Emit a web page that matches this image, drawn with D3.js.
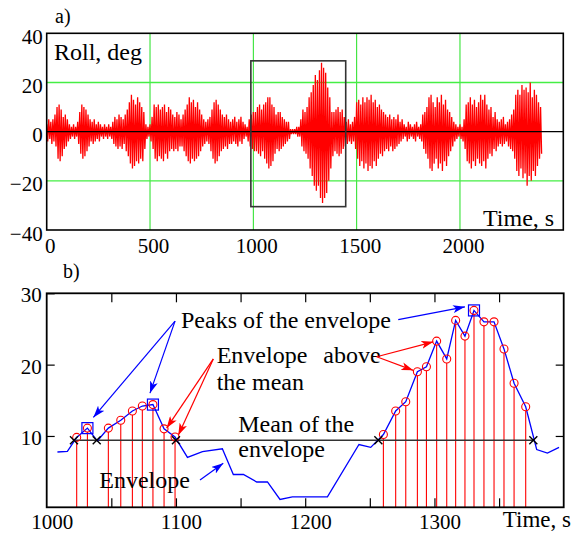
<!DOCTYPE html>
<html lang="en">
<head>
<meta charset="utf-8">
<title>Roll record and its envelope</title>
<style>
  body { margin: 0; background: #fff; }
  svg text { font-family: "Liberation Serif", "Times New Roman", Times, serif; fill: #000; }
</style>
</head>
<body>
<svg id="chart" width="575" height="533" font-family="Liberation Serif, serif"></svg>
<script src="https://cdn.jsdelivr.net/npm/d3@7"></script>
<script>

// ---- panel a data: roll record, one crest and one trough every ROLL_STEP seconds ----
var ROLL_STEP = 10;
var rollCrest = [3,5,4,5,7,10,11,9,6,7, 5,3,2,3,2,4,8,11,10,9, 7,5,4,5,3,4,3,2,3,2,
  3,2,4,6,5,7,6,5,7,9, 12,15,13,11,14,12,10,8,3,2, 3,6,11,10,11,9,10,11,8,10,
  9,7,6,8,7,5,7,9,11,14, 12,13,10,12,9,7,5,4,5,6, 9,12,13,11,9,7,6,7,5,4,
  5,6,4,5,6,4,3,2,5,7, 8,8,10,11,9,11,12,14,14,11, 10,7,8,8,6,5,4,4,1,1,
  1,2,2,5,9,8,10,14,16,19, 23,21,25,28,26,24,18,14,8,8, 9,10,8,9,6,4,5,3,4,6,
  12,13,11,14,12,14,13,15,12,13, 10,11,9,8,7,6,7,5,6,5, 7,4,5,3,2,4,3,2,3,4,
  2,3,7,8,10,14,15,12,10,14, 12,15,11,13,9,8,6,4,3,2, 3,2,5,11,12,14,11,13,10,12,
  15,13,15,11,9,10,6,8,5,4, 5,6,3,4,5,7,9,15,17,15, 19,17,18,16,20,14,17,15,12,10];
var rollTrough = [-4,-3,-5,-4,-6,-11,-12,-10,-7,-6, -4,-3,-2,-3,-2,-5,-9,-11,-10,-8,
  -6,-4,-5,-4,-3,-4,-2,-3,-2,-3, -2,-3,-5,-6,-7,-6,-7,-5,-8,-10, -13,-15,-14,-12,-13,-11,-12,-7,-3,-2,
  -4,-7,-11,-12,-10,-11,-12,-9,-11,-8, -7,-8,-7,-8,-6,-6,-8,-10,-12,-13, -11,-12,-11,-10,-8,-6,-5,-4,-5,-8,
  -11,-13,-12,-10,-8,-7,-6,-7,-5,-5, -4,-5,-6,-4,-5,-3,-2,-4,-6,-7, -8,-8,-9,-10,-8,-11,-13,-15,-14,-12,
  -9,-7,-8,-7,-6,-5,-4,-3,-1,-1, -1,-2,-2,-6,-8,-9,-11,-15,-18,-22, -24,-22,-27,-29,-27,-25,-20,-15,-10,-8,
  -9,-10,-9,-7,-6,-5,-4,-5,-4,-7, -11,-14,-12,-15,-13,-16,-14,-15,-12,-14, -11,-9,-10,-8,-7,-8,-6,-8,-7,-6,
  -5,-4,-3,-2,-4,-3,-2,-3,-4,-2, -3,-4,-7,-9,-11,-15,-16,-13,-11,-15, -13,-16,-12,-14,-10,-8,-6,-4,-3,-2,
  -3,-4,-7,-12,-13,-15,-12,-14,-11,-13, -14,-12,-15,-11,-9,-10,-7,-8,-6,-5, -6,-5,-4,-6,-7,-8,-11,-16,-18,-15,
  -19,-17,-22,-18,-20,-16,-18,-14,-11,-9];
var zoomWindow = [988, 1447];      // s, box drawn in panel a
var zoomRange = [-30.5, 28.8];     // deg
var aXTicks = [0, 500, 1000, 1500, 2000];
var aYTicks = [-40, -20, 0, 20, 40];
var aGridX = [500, 1000, 1500, 2000];
var aGridY = [-20, 20];

// ---- panel b data: envelope of the roll between 1000 and 1400 s ----
var envTime = [1008.3,1016.0,1023.2,1031.5,1039.2,1047.7,1057.3,1066.3,1074.0,1082.2,1090.8,1099.3,
  1108.9,1120.5,1135.9,1144.4,1152.2,1162.5,1170.8,1180.5,1190.1,1217.2,1241.6,1250.7,
  1260.5,1270.0,1277.8,1286.8,1293.8,1301.7,1309.5,1316.4,1323.6,1330.6,1338.3,1346.1,1353.8,1361.6,1370.6,
  1379.1,1387.4,1396.4];
var envValue = [7.75,7.85,9.8,11.1,9.3,11.1,12.2,13.5,14.2,14.4,11.0,9.85,
  7.0,7.8,8.2,4.6,4.6,3.55,3.55,1.1,1.45,1.45,8.8,8.4,
  10.2,13.5,14.8,19.0,19.7,23.3,20.8,26.2,24.0,27.6,26.0,26.0,22.2,17.4,14.1,
  8.1,7.6,8.4];
var envMean = 9.4;
var peakTime = [1031.5, 1082.2, 1330.6];
var crossTime = [1021.1, 1038.7, 1100.0, 1256.6, 1376.5];
var bXTicks = [1000, 1100, 1200, 1300];
var bXMinor = [1050, 1100, 1150, 1200, 1250, 1300, 1350];
var bYTicks = [10, 20, 30];

var SERIF = "Liberation Serif, Times New Roman, serif";
var svg = d3.select("#chart");

// arrow heads
var defs = svg.append("defs");
[["blue", "#0000ff"], ["red", "#ff0000"]].forEach(function (c) {
  defs.append("marker")
    .attr("id", "head-" + c[0])
    .attr("markerUnits", "userSpaceOnUse")
    .attr("markerWidth", 13).attr("markerHeight", 8)
    .attr("refX", 12).attr("refY", 4)
    .attr("orient", "auto")
    .append("path").attr("d", "M0,0 L12,4 L0,8 L3,4 z").attr("fill", c[1]);
});

function styleAxis(ax) {
  ax.attr("font-family", SERIF).attr("font-size", null);
  ax.select(".domain").remove();
  ax.selectAll("line").attr("stroke", "#000").attr("stroke-width", 1.2);
  ax.selectAll("text").attr("font-size", 21).attr("font-family", SERIF).attr("fill", "#000");
}

//===================== panel a =====================
var xa = d3.scaleLinear().domain([0, 2500]).range([46.7, 563.3]);
var ya = d3.scaleLinear().domain([-40, 40]).range([230, 33.3]);
var ga = svg.append("g");

ga.selectAll(".gx").data(aGridX).enter().append("line")
  .attr("x1", xa).attr("x2", xa).attr("y1", ya(-40)).attr("y2", ya(40))
  .attr("stroke", "#22e022").attr("stroke-width", 1);
ga.selectAll(".gy").data(aGridY).enter().append("line")
  .attr("x1", xa(0)).attr("x2", xa(2500)).attr("y1", ya).attr("y2", ya)
  .attr("stroke", "#44ee44").attr("stroke-width", 1.3);

// roll signal: crest, trough, crest, ...
var rollPts = [];
rollCrest.forEach(function (v, i) {
  rollPts.push([i * ROLL_STEP, v]);
  rollPts.push([i * ROLL_STEP + ROLL_STEP / 2, rollTrough[i]]);
});
ga.append("path").datum(rollPts)
  .attr("d", d3.line().x(function (d) { return xa(d[0]); }).y(function (d) { return ya(d[1]); }))
  .attr("fill", "none").attr("stroke", "#ff0000").attr("stroke-width", 1.3);

ga.append("line")
  .attr("x1", xa(0)).attr("x2", xa(2500)).attr("y1", ya(0)).attr("y2", ya(0))
  .attr("stroke", "#000").attr("stroke-width", 1.2);

ga.append("rect")
  .attr("x", xa(zoomWindow[0])).attr("y", ya(zoomRange[1]))
  .attr("width", xa(zoomWindow[1]) - xa(zoomWindow[0]))
  .attr("height", ya(zoomRange[0]) - ya(zoomRange[1]))
  .attr("fill", "none").attr("stroke", "#333").attr("stroke-width", 1.6);

ga.append("rect")
  .attr("x", xa(0)).attr("y", ya(40))
  .attr("width", xa(2500) - xa(0)).attr("height", ya(-40) - ya(40))
  .attr("fill", "none").attr("stroke", "#000").attr("stroke-width", 1.6);

var aLeft = ga.append("g").attr("transform", "translate(" + xa(0) + ",0)")
  .call(d3.axisLeft(ya).tickValues(aYTicks).tickSize(0).tickPadding(4));
var aBottom = ga.append("g").attr("transform", "translate(0," + ya(-40) + ")")
  .call(d3.axisBottom(xa).tickValues(aXTicks).tickSize(0).tickPadding(8).tickFormat(d3.format("d")));
styleAxis(aLeft);
styleAxis(aBottom);
aLeft.selectAll("text").attr("dy", "0.48em");
aBottom.selectAll("text").attr("dx", 3);

ga.append("text").attr("x", 55).attr("y", 23).attr("font-size", 20).attr("font-family", SERIF).text("a)");
ga.append("text").attr("x", 54).attr("y", 60).attr("font-size", 24).attr("font-family", SERIF).text("Roll, deg");
ga.append("text").attr("x", 483).attr("y", 226).attr("font-size", 24).attr("font-family", SERIF).text("Time, s");

//===================== panel b =====================
var xb = d3.scaleLinear().domain([1000, 1400]).range([46.7, 563.7]);
var yb = d3.scaleLinear().domain([0, 30]).range([507.3, 293.3]);
var gb = svg.append("g");

var env = envTime.map(function (t, i) { return { t: t, v: envValue[i] }; });
var above = env.filter(function (d) { return d.v > envMean; });

gb.selectAll(".stem").data(above).enter().append("line")
  .attr("x1", function (d) { return xb(d.t); }).attr("x2", function (d) { return xb(d.t); })
  .attr("y1", function (d) { return yb(d.v) + 4; }).attr("y2", yb(0))
  .attr("stroke", "#ff0000").attr("stroke-width", 1.1);

gb.append("line")
  .attr("x1", xb(crossTime[0])).attr("x2", xb(crossTime[crossTime.length - 1]))
  .attr("y1", yb(envMean)).attr("y2", yb(envMean))
  .attr("stroke", "#333").attr("stroke-width", 1.5);

gb.append("path").datum(env)
  .attr("d", d3.line().x(function (d) { return xb(d.t); }).y(function (d) { return yb(d.v); }))
  .attr("fill", "none").attr("stroke", "#0000ff").attr("stroke-width", 1.3);

gb.selectAll(".circ").data(above).enter().append("circle")
  .attr("cx", function (d) { return xb(d.t); }).attr("cy", function (d) { return yb(d.v); })
  .attr("r", 4).attr("fill", "none").attr("stroke", "#ff0000").attr("stroke-width", 1.1);

var peaks = env.filter(function (d) { return peakTime.indexOf(d.t) >= 0; });
gb.selectAll(".sq").data(peaks).enter().append("rect")
  .attr("x", function (d) { return xb(d.t) - 5.5; }).attr("y", function (d) { return yb(d.v) - 5.5; })
  .attr("width", 11).attr("height", 11)
  .attr("fill", "none").attr("stroke", "#0000ff").attr("stroke-width", 1.2);

gb.selectAll(".cross").data(crossTime).enter().append("path")
  .attr("d", "M-4,-4L4,4M-4,4L4,-4")
  .attr("transform", function (t) { return "translate(" + xb(t) + "," + yb(envMean) + ")"; })
  .attr("stroke", "#000").attr("stroke-width", 1.4);

// frame and axes
gb.append("rect")
  .attr("x", xb(1000)).attr("y", yb(30))
  .attr("width", xb(1400) - xb(1000)).attr("height", yb(0) - yb(30))
  .attr("fill", "none").attr("stroke", "#000").attr("stroke-width", 1.8);

var bAxes = [
  gb.append("g").attr("transform", "translate(" + xb(1000) + ",0)")
    .call(d3.axisLeft(yb).tickValues(bYTicks).tickSizeInner(-8).tickSizeOuter(0).tickPadding(5)),
  gb.append("g").attr("transform", "translate(" + xb(1400) + ",0)")
    .call(d3.axisRight(yb).tickValues([10, 20]).tickSizeInner(-8).tickSizeOuter(0).tickFormat("")),
  gb.append("g").attr("transform", "translate(0," + yb(0) + ")")
    .call(d3.axisBottom(xb).tickValues(bXMinor).tickSizeInner(-9).tickSizeOuter(0).tickFormat("")),
  gb.append("g").attr("transform", "translate(0," + yb(30) + ")")
    .call(d3.axisTop(xb).tickValues(bXMinor).tickSizeInner(-9).tickSizeOuter(0).tickFormat("")),
  gb.append("g").attr("transform", "translate(0," + yb(0) + ")")
    .call(d3.axisBottom(xb).tickValues(bXTicks).tickSize(0).tickPadding(7).tickFormat(d3.format("d")))
];
bAxes.forEach(styleAxis);
bAxes[0].selectAll("text").attr("dy", "0.4em");
bAxes[4].selectAll("text").attr("dx", 5);

// annotations (positions in data units)
function arrow(from, to, color) {
  gb.append("line")
    .attr("x1", xb(from[0])).attr("y1", yb(from[1]))
    .attr("x2", xb(to[0])).attr("y2", yb(to[1]))
    .attr("stroke", color === "blue" ? "#0000ff" : "#ff0000").attr("stroke-width", 1.2)
    .attr("marker-end", "url(#head-" + color + ")");
}
function label(t, v, txt) {
  gb.append("text").attr("x", xb(t)).attr("y", yb(v))
    .attr("font-size", 24).attr("font-family", SERIF).text(txt);
}

label(1103.9, 25.1, "Peaks of the envelope");
arrow([1099.3, 26.1], [1036.1, 12.6], "blue");
arrow([1099.3, 26.1], [1079.9, 16.0], "blue");
arrow([1272.0, 26.3], [1323.6, 28.1], "blue");

label(1131.5, 20.2, "Envelope");
label(1214.0, 20.2, "above");
label(1131.5, 16.4, "the mean");
arrow([1128.9, 20.8], [1092.8, 11.1], "red");
arrow([1128.9, 20.8], [1101.8, 10.1], "red");
arrow([1255.3, 21.1], [1299.1, 23.2], "red");
arrow([1255.3, 21.1], [1283.6, 19.2], "red");

label(1148.2, 10.6, "Mean of the");
label(1148.2, 7.1, "envelope");

label(1040.7, 2.66, "Envelope");
arrow([1118.6, 3.83], [1136.6, 6.17], "blue");

svg.append("text").attr("x", 63).attr("y", 278).attr("font-size", 20)
  .attr("font-family", SERIF).text("b)");
svg.append("text").attr("x", 571).attr("y", 527).attr("text-anchor", "end")
  .attr("font-size", 23).attr("font-family", SERIF).text("Time, s");

</script>
</body>
</html>
